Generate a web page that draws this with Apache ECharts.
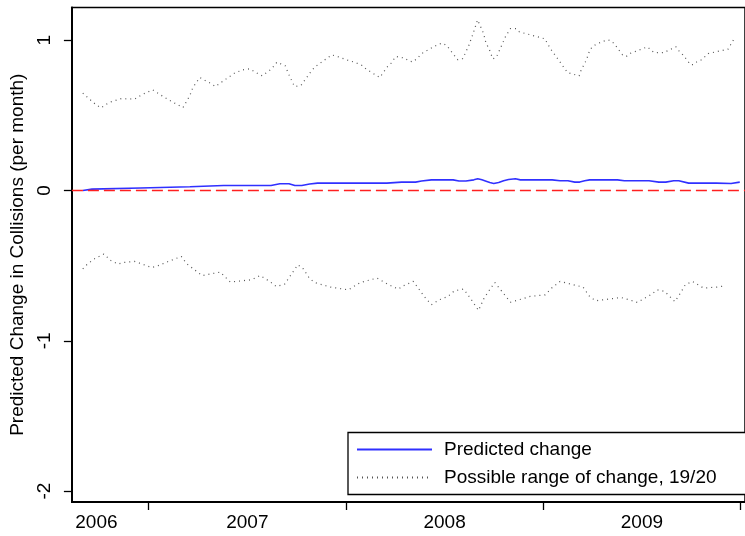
<!DOCTYPE html>
<html>
<head>
<meta charset="utf-8">
<script src="https://cdn.jsdelivr.net/npm/echarts@6/dist/echarts.min.js"></script>
<style>html,body{margin:0;padding:0;background:#fff;}#c{width:745px;height:536px;}</style>
</head>
<body>
<div id="c"></div>
<script>
// x values are fractional years
var predX = [2006.666,2006.713,2006.958,2007.209,2007.380,2007.620,2007.665,2007.711,2007.741,2007.776,2007.816,2007.856,2008.207,2008.282,2008.353,2008.383,2008.433,2008.543,2008.573,2008.608,2008.648,2008.668,2008.689,2008.714,2008.729,2008.749,2008.774,2008.799,2008.824,2008.859,2008.884,2009.045,2009.085,2009.125,2009.160,2009.185,2009.210,2009.235,2009.376,2009.411,2009.536,2009.586,2009.621,2009.661,2009.687,2009.737,2009.877,2009.952,2009.996];
var predY = [0.000,0.009,0.017,0.025,0.033,0.033,0.045,0.045,0.033,0.033,0.043,0.049,0.049,0.056,0.056,0.063,0.071,0.071,0.063,0.063,0.071,0.078,0.071,0.060,0.053,0.047,0.053,0.065,0.073,0.078,0.071,0.071,0.065,0.065,0.056,0.056,0.065,0.071,0.071,0.065,0.065,0.056,0.056,0.065,0.065,0.049,0.049,0.047,0.056];

var upperX = [2006.666,2006.694,2006.719,2006.741,2006.758,2006.799,2006.862,2006.928,2006.967,2007.020,2007.079,2007.117,2007.174,2007.208,2007.224,2007.259,2007.321,2007.338,2007.393,2007.435,2007.476,2007.514,2007.535,2007.575,2007.622,2007.650,2007.692,2007.709,2007.739,2007.772,2007.826,2007.845,2007.928,2007.956,2008.018,2008.043,2008.082,2008.102,2008.142,2008.171,2008.211,2008.229,2008.252,2008.299,2008.316,2008.341,2008.391,2008.469,2008.491,2008.512,2008.538,2008.567,2008.592,2008.622,2008.645,2008.667,2008.697,2008.709,2008.729,2008.744,2008.762,2008.792,2008.809,2008.834,2008.863,2008.879,2009.010,2009.018,2009.043,2009.055,2009.123,2009.182,2009.189,2009.199,2009.219,2009.235,2009.247,2009.265,2009.305,2009.329,2009.346,2009.364,2009.376,2009.402,2009.421,2009.439,2009.528,2009.561,2009.615,2009.631,2009.673,2009.687,2009.703,2009.717,2009.732,2009.745,2009.762,2009.778,2009.802,2009.837,2009.937,2009.971];
var upperY = [0.648,0.615,0.586,0.564,0.550,0.586,0.612,0.608,0.639,0.670,0.621,0.592,0.552,0.630,0.685,0.752,0.708,0.692,0.743,0.781,0.803,0.810,0.792,0.763,0.808,0.854,0.830,0.776,0.692,0.699,0.798,0.825,0.903,0.892,0.863,0.854,0.832,0.808,0.776,0.752,0.825,0.848,0.892,0.881,0.863,0.856,0.918,0.974,0.981,0.963,0.918,0.870,0.878,0.963,1.047,1.136,1.047,0.985,0.931,0.876,0.886,0.974,1.025,1.078,1.078,1.056,1.009,0.985,0.931,0.910,0.785,0.763,0.792,0.818,0.870,0.931,0.954,0.971,0.994,1.003,0.994,0.971,0.947,0.903,0.892,0.912,0.956,0.918,0.918,0.931,0.956,0.931,0.910,0.888,0.863,0.838,0.838,0.856,0.870,0.912,0.941,1.018];

var lowerX = [2006.666,2006.686,2006.723,2006.773,2006.808,2006.845,2006.870,2006.928,2006.953,2007.012,2007.037,2007.100,2007.165,2007.193,2007.271,2007.363,2007.413,2007.522,2007.564,2007.614,2007.647,2007.689,2007.727,2007.756,2007.781,2007.814,2007.840,2007.898,2007.923,2008.012,2008.073,2008.157,2008.216,2008.266,2008.291,2008.341,2008.366,2008.396,2008.433,2008.474,2008.517,2008.550,2008.597,2008.630,2008.672,2008.700,2008.725,2008.754,2008.834,2008.893,2008.934,2009.010,2009.043,2009.085,2009.202,2009.235,2009.265,2009.394,2009.452,2009.477,2009.545,2009.578,2009.616,2009.667,2009.695,2009.720,2009.757,2009.812,2009.879,2009.924];
var lowerY = [-0.521,-0.494,-0.456,-0.423,-0.466,-0.490,-0.479,-0.472,-0.483,-0.512,-0.506,-0.472,-0.439,-0.488,-0.566,-0.543,-0.609,-0.594,-0.566,-0.605,-0.639,-0.623,-0.550,-0.494,-0.516,-0.583,-0.612,-0.634,-0.643,-0.661,-0.612,-0.583,-0.627,-0.656,-0.634,-0.605,-0.649,-0.705,-0.760,-0.727,-0.705,-0.667,-0.656,-0.716,-0.798,-0.716,-0.667,-0.612,-0.743,-0.721,-0.705,-0.694,-0.649,-0.605,-0.643,-0.705,-0.734,-0.712,-0.734,-0.745,-0.694,-0.661,-0.672,-0.739,-0.683,-0.627,-0.605,-0.649,-0.643,-0.634];

var yTicks = [-2, -1, 0, 1];
var xTicks = [2007, 2008, 2009, 2010];
var xLabelPos = [2006.735, 2007.5, 2008.5, 2009.5];
var xLabelText = {'2006.735':'2006','2007.5':'2007','2008.5':'2008','2009.5':'2009'};

function pairs(xs, ys){ return xs.map(function(x,i){ return [x, ys[i]]; }); }

var FONT = 'Liberation Sans, Arial, sans-serif';
var rangeName = 'Possible range of change, 19/20';
var chart = echarts.init(document.getElementById('c'), null, {renderer:'canvas'});
chart.setOption({
  animation: false,
  backgroundColor: '#fff',
  textStyle: {fontFamily: FONT},
  grid: {left: 66.5, top: 7.5, right: -3, bottom: 34, show: true, borderColor: '#000', borderWidth: 1.5, containLabel: false},
  xAxis: {
    type: 'value', min: 2006.6108, max: 2010.0226,
    axisLine: {show: true, onZero: false, lineStyle: {color: '#000', width: 2}},
    splitLine: {show: false},
    axisTick: {show: true, length: 8, customValues: xTicks, lineStyle: {color: '#000', width: 1.3}},
    axisLabel: {show: true, customValues: xLabelPos, margin: 11, fontSize: 19, color: '#000', fontFamily: FONT,
      formatter: function(v){ var k = String(v); return xLabelText[k] !== undefined ? xLabelText[k] : ''; }}
  },
  yAxis: {
    type: 'value', min: -2.073, max: 1.218,
    name: 'Predicted Change in Collisions (per month)', nameLocation: 'middle', nameGap: 30,
    nameTextStyle: {fontSize: 19, color: '#000', fontFamily: FONT},
    axisLine: {show: true, onZero: false, lineStyle: {color: '#000', width: 2}},
    splitLine: {show: false},
    axisTick: {show: true, length: 8, customValues: yTicks, lineStyle: {color: '#000', width: 1.3}},
    axisLabel: {show: true, customValues: yTicks, rotate: 90, margin: 18, fontSize: 19, color: '#000', fontFamily: FONT}
  },
  legend: {
    show: true, orient: 'vertical', left: 348, top: 432.5,
    padding: [7, 45, 7, 8], itemGap: 8, itemWidth: 75, itemHeight: 14,
    borderColor: '#000', borderWidth: 1.3, backgroundColor: '#fff',
    itemStyle: {opacity: 0},
    textStyle: {fontSize: 19, color: '#000', fontFamily: FONT, lineHeight: 20, padding: [0,0,0,7]},
    data: [{name: 'Predicted change'}, {name: rangeName}]
  },
  series: [
    {
      name: 'Predicted change', type: 'line', data: pairs(predX, predY), showSymbol: false, symbol: 'none',
      lineStyle: {color: '#3030ff', width: 1.6}, itemStyle: {color: '#3030ff'}, z: 3,
      markLine: {silent: true, symbol: 'none', label: {show: false},
        lineStyle: {color: '#ff2020', type: [11, 5], width: 1.4},
        data: [{yAxis: 0}]}
    },
    {
      name: rangeName, type: 'line', data: pairs(upperX, upperY), showSymbol: false, symbol: 'none',
      lineStyle: {color: '#555', width: 1.2, type: [1, 4]}, itemStyle: {color: '#555'}
    },
    {
      name: rangeName, type: 'line', data: pairs(lowerX, lowerY), showSymbol: false, symbol: 'none',
      lineStyle: {color: '#555', width: 1.2, type: [1, 4]}, itemStyle: {color: '#555'}
    }
  ]
});
</script>
</body>
</html>
